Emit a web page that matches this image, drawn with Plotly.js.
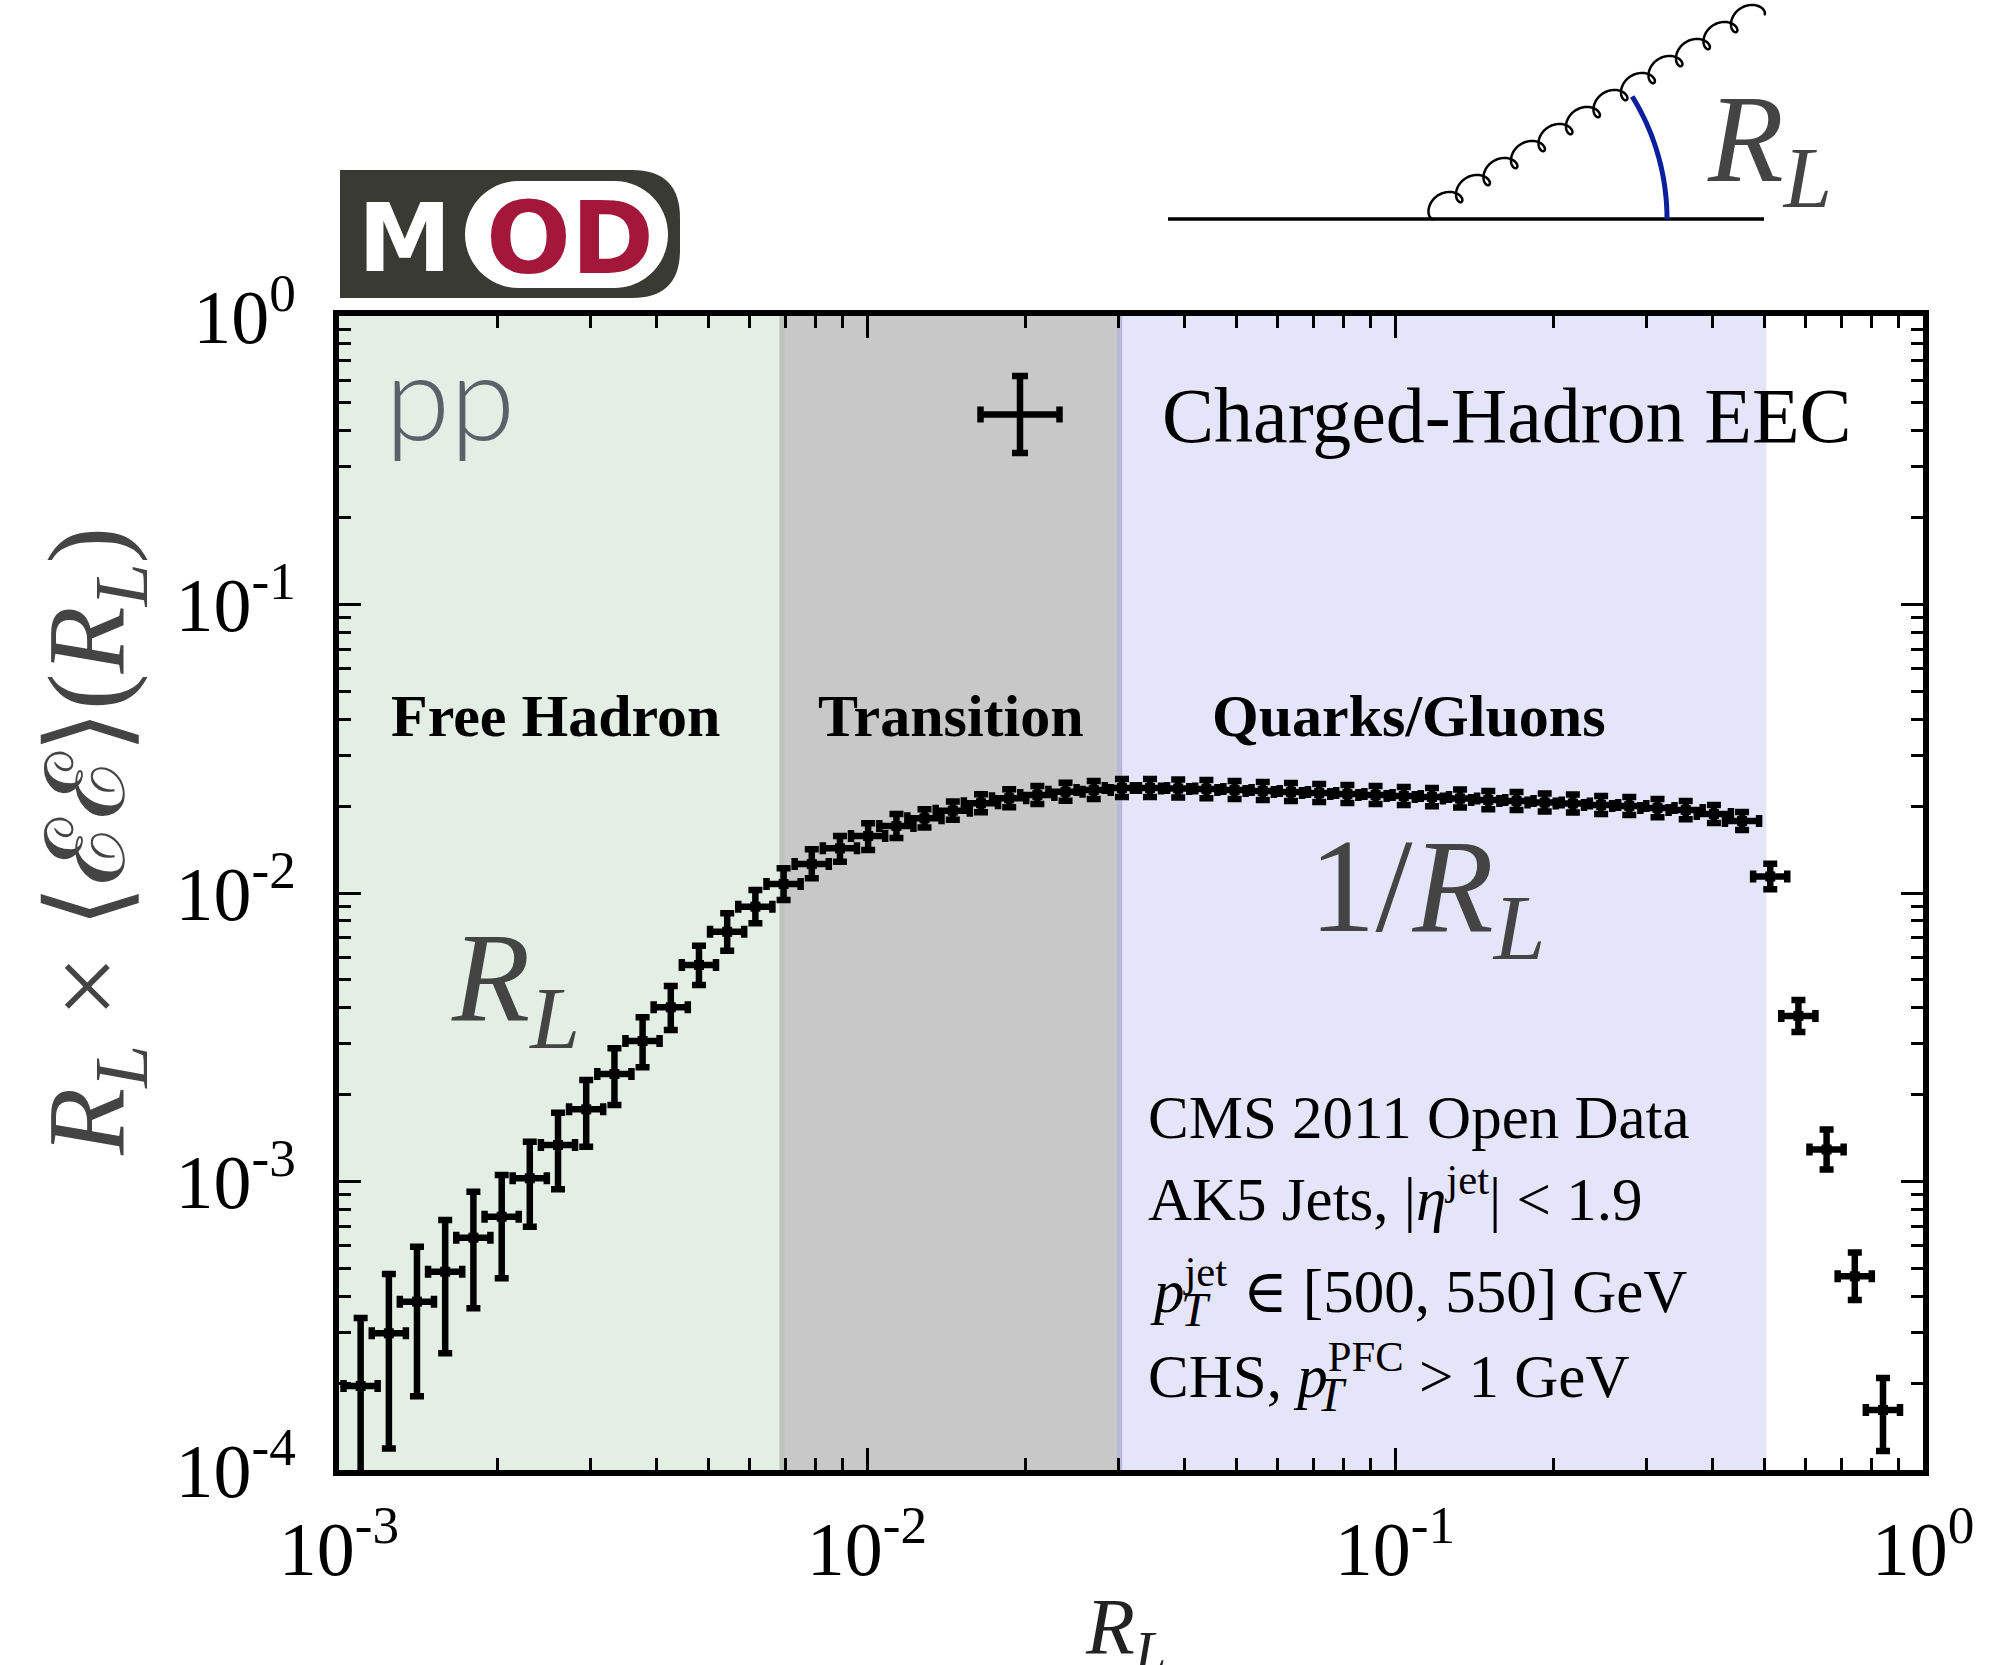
<!DOCTYPE html>
<html><head><meta charset="utf-8">
<script src="https://cdn.plot.ly/plotly-3.0.1.min.js"></script>
<style>html,body{margin:0;padding:0;background:#fff}</style>
</head><body><div id="chart" style="width:1999px;height:1665px"></div>
<script>
// ---------------- data ----------------
const RL = [0.001099, 0.001243, 0.001405, 0.001589, 0.001797, 0.002033, 0.002298, 0.002599, 0.002939, 0.003324,
  0.003758, 0.004250, 0.004806, 0.005435, 0.006146, 0.006951, 0.007860, 0.008888, 0.01005, 0.01137,
  0.01285, 0.01454, 0.01644, 0.01859, 0.02102, 0.02377, 0.02688, 0.03040, 0.03436, 0.03885,
  0.04393, 0.04968, 0.05618, 0.06353, 0.07185, 0.08125, 0.09188, 0.1039, 0.1175, 0.1328,
  0.1502, 0.1699, 0.1921, 0.2172, 0.2457, 0.2778, 0.3142, 0.3553, 0.4018, 0.4543,
  0.5137, 0.5808, 0.6568, 0.7427, 0.8399];
const EEC = [1.955e-4, 2.977e-4, 3.833e-4, 4.867e-4, 6.386e-4, 7.551e-4, 1.026e-3, 1.338e-3, 1.779e-3, 2.358e-3,
  3.069e-3, 4.016e-3, 5.628e-3, 7.339e-3, 8.967e-3, 1.074e-2, 1.260e-2, 1.428e-2, 1.576e-2, 1.707e-2,
  1.815e-2, 1.929e-2, 2.047e-2, 2.130e-2, 2.187e-2, 2.245e-2, 2.275e-2, 2.312e-2, 2.312e-2, 2.303e-2,
  2.293e-2, 2.275e-2, 2.257e-2, 2.239e-2, 2.221e-2, 2.203e-2, 2.186e-2, 2.169e-2, 2.151e-2, 2.126e-2,
  2.100e-2, 2.084e-2, 2.059e-2, 2.043e-2, 2.018e-2, 2.002e-2, 1.970e-2, 1.939e-2, 1.878e-2, 1.777e-2,
  1.141e-2, 3.750e-3, 1.291e-3, 4.691e-4, 1.614e-4];
const EEC_ERR_UP = [1.41e-4, 1.80e-4, 2.11e-4, 2.49e-4, 2.83e-4, 2.98e-4, 3.48e-4, 3.93e-4, 4.68e-4, 5.36e-4,
  6.38e-4, 7.45e-4, 9.3e-4, 1.165e-3, 1.273e-3, 1.44e-3, 1.57e-3, 1.48e-3, 1.68e-3, 1.71e-3,
  1.36e-3, 1.45e-3, 1.54e-3, 1.60e-3, 1.64e-3, 1.68e-3, 1.71e-3, 1.73e-3, 1.73e-3, 1.73e-3,
  1.72e-3, 1.71e-3, 1.69e-3, 1.68e-3, 1.67e-3, 1.65e-3, 1.64e-3, 1.63e-3, 1.61e-3, 1.59e-3,
  1.58e-3, 1.56e-3, 1.54e-3, 1.53e-3, 1.51e-3, 1.50e-3, 1.48e-3, 1.45e-3, 1.41e-3, 1.33e-3,
  1.21e-3, 5.1e-4, 2.24e-4, 9.8e-5, 4.7e-5];
const EEC_ERR_DOWN = [1.50e-4, 1.79e-4, 2.03e-4, 2.33e-4, 2.75e-4, 2.93e-4, 3.29e-4, 3.98e-4, 4.59e-4, 5.17e-4,
  5.81e-4, 6.66e-4, 8.3e-4, 1.029e-3, 1.115e-3, 1.284e-3, 1.36e-3, 1.44e-3, 1.67e-3, 1.56e-3,
  1.27e-3, 1.35e-3, 1.43e-3, 1.49e-3, 1.53e-3, 1.57e-3, 1.59e-3, 1.62e-3, 1.62e-3, 1.61e-3,
  1.61e-3, 1.59e-3, 1.58e-3, 1.57e-3, 1.55e-3, 1.54e-3, 1.53e-3, 1.52e-3, 1.51e-3, 1.49e-3,
  1.47e-3, 1.46e-3, 1.44e-3, 1.43e-3, 1.41e-3, 1.40e-3, 1.38e-3, 1.36e-3, 1.31e-3, 1.24e-3,
  1.10e-3, 4.5e-4, 1.91e-4, 8.1e-5, 4.5e-5];
const REGION_EDGES = [0.001, 0.0069, 0.0301, 0.505];
const REGION_NAMES = ['Free Hadron', 'Transition', 'Quarks/Gluons'];
const X_TICKS = [0.001, 0.01, 0.1, 1];
const X_TICK_TEXT = ['10<sup>-3</sup>', '10<sup>-2</sup>', '10<sup>-1</sup>', '10<sup>0</sup>'];
const Y_TICKS = [1e-4, 1e-3, 1e-2, 1e-1, 1];
const Y_TICK_TEXT = ['10<sup>-4</sup>', '10<sup>-3</sup>', '10<sup>-2</sup>', '10<sup>-1</sup>', '10<sup>0</sup>'];
const INFO_LINES = ['CMS 2011 Open Data', 'AK5 Jets, |<i>η</i><sup>jet</sup>| < 1.9',
  '<i>p</i><sup>jet</sup> ∈ [500, 550] GeV', 'CHS, <i>p</i><sup>PFC</sup> > 1 GeV'];

// ---------------- geometry helpers (pixel -> paper) ----------------
const PL = 339, PR = 1923, PT = 316, PB = 1470;
const px = v => (v - PL) / (PR - PL);
const py = v => (PB - v) / (PB - PT);
const SERIF = 'Liberation Serif, "DejaVu Serif", serif';

function minorVals(lo, hi) {
  const out = [];
  for (let e = lo; e < hi; e++) for (let m = 2; m <= 9; m++) out.push(m * Math.pow(10, e));
  return out;
}
function pathFromPts(pts, close) {
  return 'M ' + pts.map(p => px(p[0]).toFixed(5) + ',' + py(p[1]).toFixed(5)).join(' L ') + (close ? ' Z' : '');
}
function ann(text, x, y, xa, ya, size, color, extra) {
  return Object.assign({
    text: text, x: px(x), y: py(y), xref: 'paper', yref: 'paper',
    xanchor: xa, yanchor: ya, showarrow: false, borderpad: 0,
    font: { family: SERIF, size: size, color: color }
  }, extra || {});
}

// ---------------- trace ----------------
const trace = {
  type: 'scatter', mode: 'markers', x: RL, y: EEC, cliponaxis: true, showlegend: false,
  marker: { symbol: 'square', size: 10, color: '#000' },
  error_y: { type: 'data', array: EEC_ERR_UP, arrayminus: EEC_ERR_DOWN, symmetric: false,
             color: '#000', thickness: 6.5, width: 7 },
  error_x: { type: 'percent', symmetric: false, value: 7.7, valueminus: 7.2,
             color: '#000', thickness: 6.5, width: 6 }
};

// ---------------- shapes ----------------
const shapes = [];
const REGION_COLORS = ['#e3eee4', '#c8c8c8', '#e5e5f9'];
for (let i = 0; i < REGION_NAMES.length; i++) {
  shapes.push({ type: 'rect', xref: 'x', yref: 'paper', x0: REGION_EDGES[i], x1: REGION_EDGES[i + 1],
    y0: 0, y1: 1, fillcolor: REGION_COLORS[i], line: { width: 0 }, layer: 'below' });
}
shapes.push({ type: 'line', xref: 'x', yref: 'paper', x0: REGION_EDGES[1], x1: REGION_EDGES[1], y0: 0, y1: 1,
  line: { color: '#bcc3bc', width: 5 }, layer: 'below' });
shapes.push({ type: 'line', xref: 'x', yref: 'paper', x0: REGION_EDGES[2], x1: REGION_EDGES[2], y0: 0, y1: 1,
  line: { color: '#b8b8d6', width: 5 }, layer: 'below' });

// legend-style error-bar key
const K = { cx: 1020, cy: 414.5, hx: 41.5, hy: 40.5 };
const keyLines = [
  [[K.cx - K.hx, K.cy], [K.cx + K.hx, K.cy]],
  [[K.cx, K.cy - K.hy], [K.cx, K.cy + K.hy]],
  [[K.cx - K.hx + 2, K.cy - 8], [K.cx - K.hx + 2, K.cy + 8]],
  [[K.cx + K.hx - 2, K.cy - 8], [K.cx + K.hx - 2, K.cy + 8]],
  [[K.cx - 8, K.cy - K.hy + 2], [K.cx + 8, K.cy - K.hy + 2]],
  [[K.cx - 8, K.cy + K.hy - 2], [K.cx + 8, K.cy + K.hy - 2]]
];
keyLines.forEach(l => shapes.push({ type: 'line', xref: 'paper', yref: 'paper',
  x0: px(l[0][0]), y0: py(l[0][1]), x1: px(l[1][0]), y1: py(l[1][1]), line: { color: '#000', width: 6.5 } }));

// MOD logo
(function () {
  const k = 0.5523;
  const dpath = 'M ' + px(340) + ',' + py(170) + ' L ' + px(632) + ',' + py(170) +
    ' Q ' + px(680) + ',' + py(170) + ' ' + px(680) + ',' + py(218) +
    ' L ' + px(680) + ',' + py(250) +
    ' Q ' + px(680) + ',' + py(298) + ' ' + px(632) + ',' + py(298) +
    ' L ' + px(340) + ',' + py(298) + ' Z';
  shapes.push({ type: 'path', xref: 'paper', yref: 'paper', path: dpath, fillcolor: '#3a3a35', line: { width: 0 } });
  const R = 53.5, cl = 518.5, cr = 614.5, cy = 234.5, t = cy - R, b = cy + R, l = cl - R, r = cr + R;
  const P = (x, y) => px(x) + ',' + py(y);
  const wpath = 'M ' + P(cl, t) + ' L ' + P(cr, t) +
    ' C ' + P(cr + k * R, t) + ' ' + P(r, cy - k * R) + ' ' + P(r, cy) +
    ' C ' + P(r, cy + k * R) + ' ' + P(cr + k * R, b) + ' ' + P(cr, b) +
    ' L ' + P(cl, b) +
    ' C ' + P(cl - k * R, b) + ' ' + P(l, cy + k * R) + ' ' + P(l, cy) +
    ' C ' + P(l, cy - k * R) + ' ' + P(cl - k * R, t) + ' ' + P(cl, t) + ' Z';
  shapes.push({ type: 'path', xref: 'paper', yref: 'paper', path: wpath, fillcolor: '#ffffff', line: { width: 0 } });
})();

// jet diagram: quark line, gluon coil, angle arc
shapes.push({ type: 'line', xref: 'paper', yref: 'paper', x0: px(1168), y0: py(219), x1: px(1764), y1: py(219),
  line: { color: '#000', width: 3.5 } });
(function () {
  const x0 = 1434, y0 = 219, x1 = 1764, y1 = 15;
  const L = Math.hypot(x1 - x0, y1 - y0);
  const ux = (x1 - x0) / L, uy = (y1 - y0) / L, vx = -uy, vy = ux;
  const n = 12, r = L / (2 * Math.PI * n), d = 9;
  const pts = [], N = n * 48;
  for (let i = 0; i <= N; i++) {
    const th = 2 * Math.PI * n * i / N;
    const s = r * th - d * Math.sin(th), w = d * (1 - Math.cos(th));
    pts.push([x0 + s * ux - w * vx, y0 + s * uy - w * vy]);
  }
  shapes.push({ type: 'path', xref: 'paper', yref: 'paper', path: pathFromPts(pts, false),
    line: { color: '#000', width: 2.5 } });
  const R = 233, a1 = Math.atan2(y0 - y1, x1 - x0), arc = [];
  for (let i = 0; i <= 40; i++) { const a = a1 * i / 40; arc.push([x0 + R * Math.cos(a), y0 - R * Math.sin(a)]); }
  shapes.push({ type: 'path', xref: 'paper', yref: 'paper', path: pathFromPts(arc, false),
    line: { color: '#0b1f9c', width: 5 } });
})();

// ---------------- annotations ----------------
const RLtxt = '<i>R</i><sub><i>L</i></sub>';
const annotations = [
  ann('pp', 384, 466, 'left', 'bottom', 118, '#5b6169', { font: { family: 'Lato, "Open Sans", sans-serif', size: 118, color: '#5b6169', weight: 300 } }),
  ann('Charged-Hadron EEC', 1161, 460, 'left', 'bottom', 78, '#000'),
  ann('<b>' + REGION_NAMES[0] + '</b>', 555, 750, 'center', 'bottom', 60, '#000'),
  ann('<b>' + REGION_NAMES[1] + '</b>', 951, 750, 'center', 'bottom', 60, '#000'),
  ann('<b>' + REGION_NAMES[2] + '</b>', 1409, 750, 'center', 'bottom', 60, '#000'),
  ann(RLtxt, 450, 906, 'left', 'top', 128, '#444'),
  ann('1/' + RLtxt, 1308, 811, 'left', 'top', 133, '#444'),
  ann(INFO_LINES[0], 1147, 1152, 'left', 'bottom', 61, '#000'),
  ann(INFO_LINES[1], 1147, 1234, 'left', 'bottom', 61, '#000'),
  ann(INFO_LINES[2], 1149, 1326, 'left', 'bottom', 61, '#000'),
  ann('<i>T</i>', 1180, 1337, 'left', 'bottom', 48, '#000'),
  ann(INFO_LINES[3], 1147, 1411, 'left', 'bottom', 61, '#000'),
  ann('<i>T</i>', 1316, 1422, 'left', 'bottom', 48, '#000'),
  ann(RLtxt, 1125, 1582, 'center', 'top', 80, '#222'),
  ann(RLtxt + ' × ⟨ℰℰ⟩(' + RLtxt + ')', 95, 842, 'center', 'middle', 110, '#444', { textangle: -90 }),
  ann(RLtxt, 1706, 70, 'left', 'top', 124, '#444'),
  ann('M', 405, 294, 'center', 'bottom', 94, '#fff', { font: { family: '"DejaVu Sans", sans-serif', size: 94, color: '#ffffff', weight: 'bold' } }),
  ann('OD', 570, 298, 'center', 'bottom', 100, '#a3173a', { font: { family: '"DejaVu Sans", sans-serif', size: 100, color: '#a3173a', weight: 'bold' } })
];

// ---------------- layout ----------------
const axisCommon = {
  type: 'log', showgrid: false, zeroline: false, showline: true, linecolor: '#000', linewidth: 6,
  mirror: 'allticks', ticks: 'inside', ticklen: 22, tickwidth: 3, tickcolor: '#000',
  tickmode: 'array', tickfont: { family: SERIF, size: 76, color: '#000' }
};
const layout = {
  width: 1999, height: 1665, paper_bgcolor: '#fff', plot_bgcolor: '#fff',
  margin: { l: PL, r: 1999 - PR, t: PT, b: 1665 - PB, pad: 0 },
  showlegend: false,
  font: { family: SERIF, color: '#000' },
  xaxis: Object.assign({}, axisCommon, {
    range: [-3, 0], tickvals: X_TICKS, ticktext: X_TICK_TEXT, ticklabelstandoff: 8,
    minor: { tickmode: 'array', tickvals: minorVals(-3, 0), ticks: 'inside', ticklen: 12, tickwidth: 3, tickcolor: '#000', showgrid: false }
  }),
  yaxis: Object.assign({}, axisCommon, {
    range: [-4, 0], tickvals: Y_TICKS, ticktext: Y_TICK_TEXT, ticklabelstandoff: 22,
    minor: { tickmode: 'array', tickvals: minorVals(-4, 0), ticks: 'inside', ticklen: 12, tickwidth: 3, tickcolor: '#000', showgrid: false }
  }),
  shapes: shapes,
  annotations: annotations
};

Plotly.newPlot('chart', [trace], layout, { staticPlot: true, displayModeBar: false });
</script>
</body></html>
